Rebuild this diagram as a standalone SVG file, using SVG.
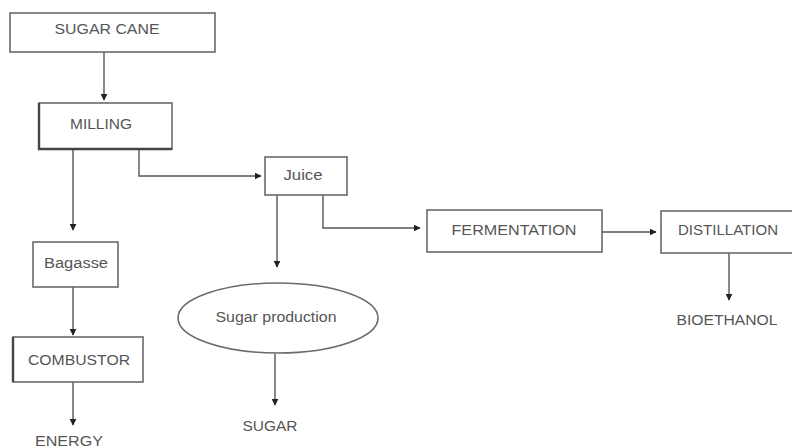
<svg xmlns="http://www.w3.org/2000/svg" width="792" height="448" viewBox="0 0 792 448">
<style>
.box{fill:#fff;stroke:#6a6a6a;stroke-width:1.6}
.t{font-family:"Liberation Sans",Arial,sans-serif;font-size:14px;fill:#555;text-anchor:middle}
.ln{fill:none;stroke:#555;stroke-width:1.4}
</style>
<defs>
<marker id="ah" viewBox="0 0 10 10" refX="9" refY="5" markerWidth="7" markerHeight="7" orient="auto" markerUnits="userSpaceOnUse">
<path d="M0,0 L10,5 L0,10 z" fill="#222"/>
</marker>
</defs>
<rect width="792" height="448" fill="#fff"/>
<g id="connectors">
<path class="ln" d="M104,52 V100" marker-end="url(#ah)"/>
<path class="ln" d="M73,150 V230" marker-end="url(#ah)"/>
<path class="ln" d="M139,150 V176 H261" marker-end="url(#ah)"/>
<path class="ln" d="M277,195 V267" marker-end="url(#ah)"/>
<path class="ln" d="M323,195 V228 H420" marker-end="url(#ah)"/>
<path class="ln" d="M602,232 H656" marker-end="url(#ah)"/>
<path class="ln" d="M729,253 V300" marker-end="url(#ah)"/>
<path class="ln" d="M73,287 V335" marker-end="url(#ah)"/>
<path class="ln" d="M73,382 V425" marker-end="url(#ah)"/>
<path class="ln" d="M275,354 V405" marker-end="url(#ah)"/>
</g>
<g id="sugarcane"><rect class="box" x="10" y="13" width="205" height="39"/><text class="t" x="107" y="34" textLength="105" lengthAdjust="spacingAndGlyphs">SUGAR CANE</text></g>
<g id="milling"><rect class="box" x="39" y="103" width="133" height="46"/><path d="M39,103 V149 H172" fill="none" stroke="#444" stroke-width="2.4"/><text class="t" x="101" y="129" textLength="62" lengthAdjust="spacingAndGlyphs">MILLING</text></g>
<g id="juice"><rect class="box" x="265" y="157" width="82" height="38"/><text class="t" x="303" y="180" textLength="39" lengthAdjust="spacingAndGlyphs">Juice</text></g>
<g id="fermentation"><rect class="box" x="427" y="210" width="175" height="42"/><text class="t" x="514" y="235" textLength="125" lengthAdjust="spacingAndGlyphs">FERMENTATION</text></g>
<g id="distillation"><rect class="box" x="661" y="211" width="133" height="42"/><text class="t" x="728" y="235" textLength="100" lengthAdjust="spacingAndGlyphs">DISTILLATION</text></g>
<g id="bioethanol"><text class="t" x="727" y="325" textLength="101" lengthAdjust="spacingAndGlyphs">BIOETHANOL</text></g>
<g id="bagasse"><rect class="box" x="33" y="242" width="85" height="45"/><text class="t" x="76" y="268" textLength="64" lengthAdjust="spacingAndGlyphs">Bagasse</text></g>
<g id="combustor"><rect class="box" x="13" y="337" width="130" height="45"/><path d="M13,337 V382" fill="none" stroke="#444" stroke-width="2.4"/><text class="t" x="79" y="365" textLength="102" lengthAdjust="spacingAndGlyphs">COMBUSTOR</text></g>
<g id="energy"><text class="t" x="69" y="446" textLength="68" lengthAdjust="spacingAndGlyphs">ENERGY</text></g>
<g id="sugarproduction"><ellipse class="box" cx="278" cy="318" rx="100" ry="35"/><text class="t" x="276" y="322" textLength="121" lengthAdjust="spacingAndGlyphs">Sugar production</text></g>
<g id="sugar"><text class="t" x="270" y="431" textLength="55" lengthAdjust="spacingAndGlyphs">SUGAR</text></g>
</svg>
